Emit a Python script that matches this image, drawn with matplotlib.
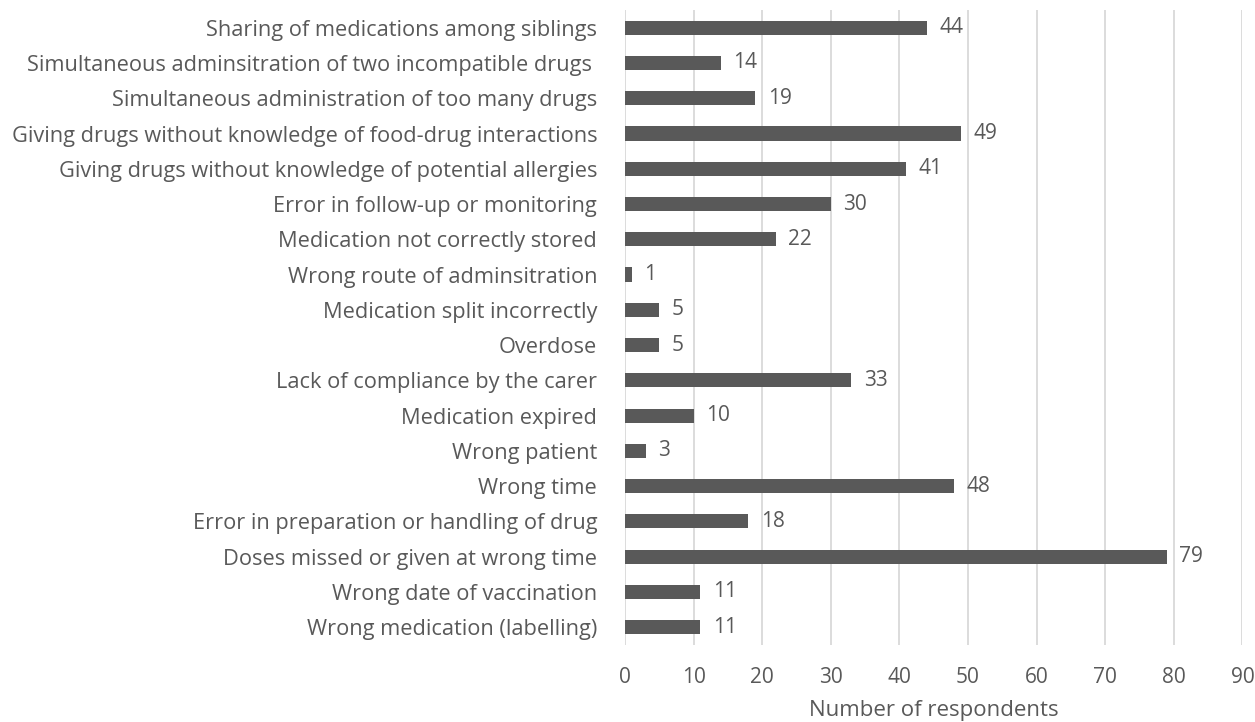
import matplotlib
matplotlib.use('Agg')
import matplotlib.pyplot as plt
import numpy as np

categories = [
    'Sharing of medications among siblings',
    'Simultaneous adminsitration of two incompatible drugs ',
    'Simultaneous administration of too many drugs',
    'Giving drugs without knowledge of food-drug interactions',
    'Giving drugs without knowledge of potential allergies',
    'Error in follow-up or monitoring',
    'Medication not correctly stored',
    'Wrong route of adminsitration',
    'Medication split incorrectly',
    'Overdose',
    'Lack of compliance by the carer',
    'Medication expired',
    'Wrong patient',
    'Wrong time',
    'Error in preparation or handling of drug',
    'Doses missed or given at wrong time',
    'Wrong date of vaccination',
    'Wrong medication (labelling)',
]
respondents = [44, 14, 19, 49, 41, 30, 22, 1, 5, 5, 33, 10, 3, 48, 18, 79, 11, 11]
x_ticks = list(range(0, 91, 10))

plt.rcParams['font.family'] = ['Open Sans', 'DejaVu Sans']
txt = '#595959'

fig = plt.figure(figsize=(12.55, 7.22), dpi=100)
ax = fig.add_axes([0.498, 0.107, 0.492, 0.879])

y = np.arange(len(categories))
ax.barh(y, respondents, height=0.4, color='#595959', zorder=3)
for yi, v in zip(y, respondents):
    ax.text(v + 1.8, yi, str(v), va='center', ha='left', fontsize=15, color=txt)

ax.set_yticks(y)
ax.set_yticklabels(categories, fontsize=15.7, color=txt)
ax.set_ylim(len(categories) - 0.5, -0.5)
ax.set_xlim(0, 90)
ax.set_xticks(x_ticks)
ax.set_xticklabels([str(t) for t in x_ticks], fontsize=15, color=txt)
ax.tick_params(axis='both', length=0)
ax.tick_params(axis='x', pad=16)
ax.tick_params(axis='y', pad=20)
ax.grid(axis='x', color='#d9d9d9', linewidth=1.3, zorder=0)
for s in ax.spines.values():
    s.set_visible(False)
ax.set_xlabel('Number of respondents', fontsize=16, color=txt, labelpad=9)

fig.savefig('out.png', dpi=100)
